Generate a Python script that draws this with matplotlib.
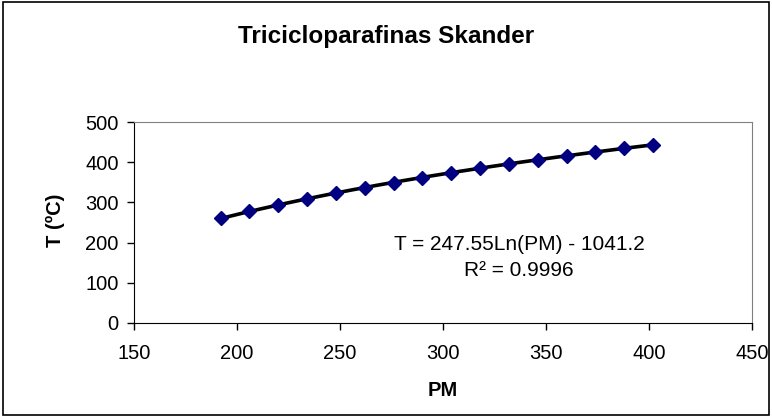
import matplotlib
matplotlib.use("Agg")
import matplotlib.pyplot as plt
from matplotlib.patches import Rectangle
import numpy as np

# molecular weight (PM) and boiling temperature T (ºC)
pm = [192, 206, 220, 234, 248, 262, 276, 290, 304, 318, 332, 346, 360, 374, 388, 402]
temp = [261, 278, 293, 309, 323, 337, 349, 361, 374, 385, 395, 406, 416, 426, 435, 444]

x_ticks = [150, 200, 250, 300, 350, 400, 450]
y_ticks = [0, 100, 200, 300, 400, 500]

plt.rcParams['font.family'] = ['Liberation Sans', 'DejaVu Sans']

W, H = 772, 417
fig = plt.figure(figsize=(W / 100, H / 100), dpi=100)
ax = fig.add_axes([134 / W, 1 - 323 / H, (752 - 134) / W, (323 - 122) / H])

# outer frame of the chart
fig.patches.append(Rectangle((0.004, 0.005), 0.992, 0.99, transform=fig.transFigure,
                             fill=False, edgecolor='black', linewidth=1.2))

# logarithmic trendline fitted to the points
a, b = np.polyfit(np.log(pm), temp, 1)
xs = np.linspace(min(pm), max(pm), 200)
ax.plot(xs, a * np.log(xs) + b, color='black', linewidth=2.6, zorder=2)
ax.plot(pm, temp, linestyle='none', marker='D', markersize=7.5,
        color='#000080', zorder=3)

ax.set_xlim(150, 450)
ax.set_ylim(0, 500)
ax.set_xticks(x_ticks)
ax.set_yticks(y_ticks)
ax.tick_params(direction='out', length=5, width=1, labelsize=14.5)
ax.tick_params(axis='x', pad=10)
ax.tick_params(axis='y', pad=6)

for side in ['top', 'right']:
    ax.spines[side].set_color('#808080')
for side in ['left', 'bottom']:
    ax.spines[side].set_color('black')

fig.text(443 / W, 1 - 390 / H, 'PM', ha='center', va='center',
         fontsize=14.5, fontweight='bold')
fig.text(55 / W, 1 - 220 / H, 'T (ºC)', ha='center', va='center',
         rotation=90, fontsize=14.5, fontweight='bold')
fig.text(0.5, 1 - 36 / H, 'Tricicloparafinas Skander',
         ha='center', va='center', fontsize=17.5, fontweight='bold')

fig.text(519 / W, 1 - 244 / H, 'T = 247.55Ln(PM) - 1041.2',
         ha='center', va='center', fontsize=15)
fig.text(519 / W, 1 - 270 / H, 'R² = 0.9996',
         ha='center', va='center', fontsize=15)

fig.savefig('out.png', dpi=100)
